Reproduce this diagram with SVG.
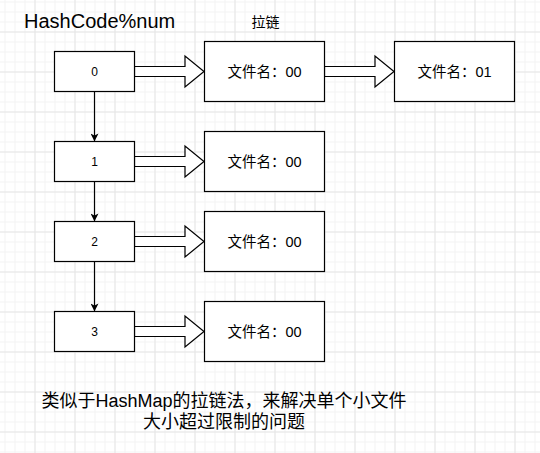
<svg xmlns="http://www.w3.org/2000/svg" width="540" height="453" viewBox="0 0 540 453">
  <defs>
    <pattern id="minor" width="10" height="10" patternUnits="userSpaceOnUse" x="4.5" y="1.5">
      <path d="M0,0.5 H10 M0.5,0 V10" fill="none" stroke="#f3f3f3" stroke-width="1"/>
    </pattern>
    <pattern id="major" width="40" height="40" patternUnits="userSpaceOnUse" x="34.5" y="31.5">
      <path d="M0,0.5 H40 M0.5,0 V40" fill="none" stroke="#e6e6e6" stroke-width="1"/>
    </pattern>
    <marker id="arr" viewBox="0 0 10 10" refX="9.5" refY="5" markerWidth="8" markerHeight="8" markerUnits="userSpaceOnUse" orient="auto">
      <path d="M0,0 L10,5 L0,10 L2.5,5 Z" fill="#000"/>
    </marker>
    <style>
      .box { fill: #fff; stroke: #000; stroke-width: 1.2; }
      .blk { fill: #fff; stroke: #000; stroke-width: 1.2; stroke-linejoin: miter; }
      .ln { fill: none; stroke: #000; stroke-width: 1.2; }
      text { font-family: "Liberation Sans", Arial, "Noto Sans CJK SC", sans-serif; fill: #000; }
      .idx { font-size: 12px; text-anchor: middle; }
      .fn { font-size: 14.5px; text-anchor: middle; }
    </style>
  </defs>
  <rect width="540" height="453" fill="#fff"/>
  <rect width="540" height="453" fill="url(#minor)"/>
  <rect width="540" height="453" fill="url(#major)"/>

  <g id="title">
    <text x="24" y="27.5" font-size="20">HashCode%num</text>
  </g>
  <g id="label-lalian">
    <text x="251.5" y="26.5" font-size="14" font-family="'Noto Sans CJK SC', sans-serif">拉链</text>
  </g>

  <g id="connectors">
    <line class="ln" x1="94.5" y1="91.5" x2="94.5" y2="141" marker-end="url(#arr)"/>
    <line class="ln" x1="94.5" y1="181.5" x2="94.5" y2="221" marker-end="url(#arr)"/>
    <line class="ln" x1="94.5" y1="261.5" x2="94.5" y2="311" marker-end="url(#arr)"/>
    <path class="blk" d="M134.5,66.5 H185 V56 L204,71.5 L185,87 V76.5 H134.5 Z"/>
    <path class="blk" d="M324.5,66.5 H375 V56 L394,71.5 L375,87 V76.5 H324.5 Z"/>
    <path class="blk" d="M134.5,156.5 H185 V146 L204,161.5 L185,177 V166.5 H134.5 Z"/>
    <path class="blk" d="M134.5,236.5 H185 V226 L204,241.5 L185,257 V246.5 H134.5 Z"/>
    <path class="blk" d="M134.5,326.5 H185 V316 L204,331.5 L185,347 V336.5 H134.5 Z"/>
  </g>

  <g id="node-0">
    <rect class="box" x="54.5" y="51.5" width="80" height="40"/>
    <text class="idx" x="94.5" y="76">0</text>
  </g>
  <g id="node-1">
    <rect class="box" x="54.5" y="141.5" width="80" height="40"/>
    <text class="idx" x="94.5" y="166">1</text>
  </g>
  <g id="node-2">
    <rect class="box" x="54.5" y="221.5" width="80" height="40"/>
    <text class="idx" x="94.5" y="246">2</text>
  </g>
  <g id="node-3">
    <rect class="box" x="54.5" y="311.5" width="80" height="40"/>
    <text class="idx" x="94.5" y="336">3</text>
  </g>

  <g id="file-0-00">
    <rect class="box" x="204.5" y="41.5" width="120" height="60"/>
    <text class="fn" x="264.5" y="76.5">文件名：00</text>
  </g>
  <g id="file-0-01">
    <rect class="box" x="394.5" y="41.5" width="120" height="60"/>
    <text class="fn" x="454.5" y="76.5">文件名：01</text>
  </g>
  <g id="file-1-00">
    <rect class="box" x="204.5" y="131.5" width="120" height="60"/>
    <text class="fn" x="264.5" y="166.5">文件名：00</text>
  </g>
  <g id="file-2-00">
    <rect class="box" x="204.5" y="211.5" width="120" height="60"/>
    <text class="fn" x="264.5" y="246.5">文件名：00</text>
  </g>
  <g id="file-3-00">
    <rect class="box" x="204.5" y="301.5" width="120" height="60"/>
    <text class="fn" x="264.5" y="336.5">文件名：00</text>
  </g>

  <g id="note">
    <text x="224" y="407" font-size="18" text-anchor="middle">类似于HashMap的拉链法，来解决单个小文件</text>
    <text x="224" y="428" font-size="18" text-anchor="middle">大小超过限制的问题</text>
  </g>
</svg>
